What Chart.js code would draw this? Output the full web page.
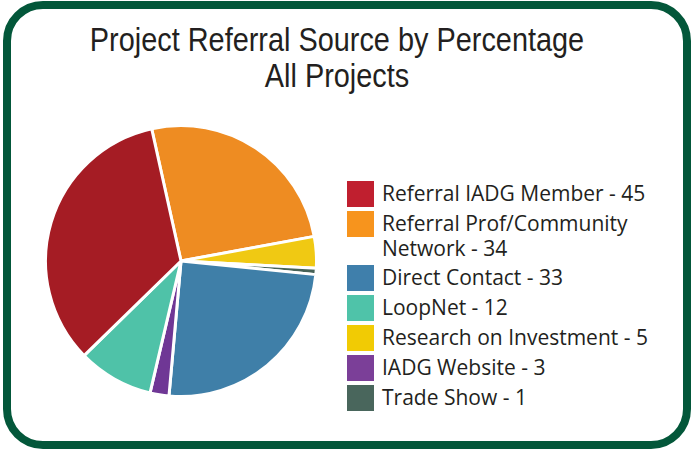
<!DOCTYPE html>
<html>
<head>
<meta charset="utf-8">
<script src="https://cdn.jsdelivr.net/npm/chart.js@4"></script>
<style>
  html, body { margin: 0; padding: 0; background: #ffffff; }
  body { width: 694px; height: 453px; position: relative; overflow: hidden; }
  #frame {
    position: absolute; left: 3px; top: 1px; width: 672px; height: 432px;
    border: 8px solid #03573a; border-radius: 40px; background: #fff;
  }
  #title {
    position: absolute; left: 0; top: 22px; width: 674px; text-align: center;
    font-family: "Liberation Sans", sans-serif;
    font-size: 33px; line-height: 36px; color: #231f20;
    transform: scaleX(0.875); transform-origin: 337px 0;
  }
  #pieWrap { position: absolute; left: 44px; top: 124px; width: 274px; height: 274px; }
  #legend {
    position: absolute; left: 347px; top: 181px; width: 340px;
    font-family: "Open Sans", sans-serif; font-size: 21px; color: #231f20;
  }
  .item { display: flex; align-items: flex-start; padding-bottom: 4px; }
  .sw { width: 27px; height: 26px; flex: none; }
  .tx { margin-left: 8px; width: 295px; line-height: 25px; margin-top: 0px; }
</style>
</head>
<body>
<div id="frame"></div>
<div id="title"></div>
<div id="pieWrap"><canvas id="pie" width="274" height="274"></canvas></div>
<div id="legend"></div>
<script>
const titleLines = ["Project Referral Source by Percentage", "All Projects"];

// Slices in the order drawn clockwise around the pie
const categories = [
  "Referral Prof/Community Network",
  "Research on Investment",
  "Trade Show",
  "Direct Contact",
  "IADG Website",
  "LoopNet",
  "Referral IADG Member"
];
const counts = [34, 5, 1, 33, 3, 12, 45];
const sliceColors = ["#ee8c22", "#f0c913", "#476257", "#3f7fa8", "#6f3795", "#4fc2a8", "#a51c24"];
const legendColors = ["#f7941d", "#f1cb04", "#49665c", "#3f7fab", "#7b3f98", "#4fc3a9", "#c01f2f"];
// Legend listing order (indices into categories)
const legendOrder = [6, 0, 3, 5, 1, 4, 2];

document.getElementById('title').innerHTML = titleLines.map(t => '<div>' + t + '</div>').join('');

const legend = document.getElementById('legend');
legendOrder.forEach(i => {
  const it = document.createElement('div');
  it.className = 'item';
  const sw = document.createElement('div');
  sw.className = 'sw';
  sw.style.background = legendColors[i];
  const tx = document.createElement('div');
  tx.className = 'tx';
  tx.textContent = categories[i] + ' - ' + counts[i];
  it.appendChild(sw); it.appendChild(tx);
  legend.appendChild(it);
});

new Chart(document.getElementById('pie'), {
  type: 'pie',
  data: {
    labels: categories,
    datasets: [{
      data: counts,
      backgroundColor: sliceColors,
      borderColor: '#ffffff',
      borderWidth: 3
    }]
  },
  options: {
    responsive: false,
    animation: false,
    rotation: -12.5,
    layout: { padding: 0 },
    plugins: { legend: { display: false }, tooltip: { enabled: false }, title: { display: false } }
  }
});
</script>
</body>
</html>
